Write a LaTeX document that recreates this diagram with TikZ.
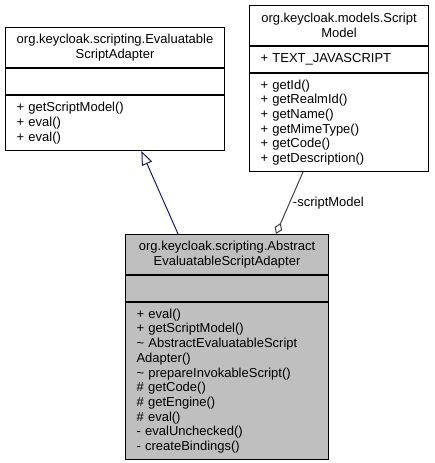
\documentclass[tikz,border=0pt]{standalone}
\usepackage{fontspec}
\setmainfont{Liberation Sans}
\usetikzlibrary{positioning,calc,arrows.meta}
\definecolor{inherit}{HTML}{191970}
\definecolor{usage}{HTML}{404040}
\definecolor{abstractfill}{HTML}{BFBFBF}
\tikzstyle{part} = [draw=black, line width=1pt, rectangle, inner ysep=0pt, font=\fontsize{13}{14.7}\selectfont]
\tikzstyle{inheritline} = [draw=inherit, line width=1pt, -{Triangle[open, length=14pt, width=11pt]}]
\tikzstyle{useline} = [draw=usage, line width=1pt, -{Diamond[open, length=12pt, width=8pt]}]
\tikzset{
    classtitle/.style={part, text width=#1, inner xsep=4pt, align=center, minimum height=40pt},
    classattr/.style={part, text width=#1, inner xsep=11pt, align=left, minimum height=26pt},
    classops/.style n args={2}{part, text width=#1, inner xsep=11pt, align=left, minimum height=#2}
}

\begin{document}
\begin{tikzpicture}[x=1pt, y=-1pt]
    \useasboundingbox (0,0) rectangle (434,463);

    % interface
    \node [classtitle=211, anchor=north west] (esaTitle) at (5,27) {org.keycloak.scripting.Evaluatable\\ScriptAdapter};
    \node [classattr=197, below=0pt of esaTitle] (esaAttr) {};
    \node [classops={197}{55pt}, below=0pt of esaAttr] (esaOps) {+ getScriptModel()\\+ eval()\\+ eval()};

    % model
    \node [classtitle=171, anchor=north west] (smTitle) at (249,5) {org.keycloak.models.Script\\Model};
    \node [classattr=157, below=0pt of smTitle] (smAttr) {+ TEXT\_JAVASCRIPT};
    \node [classops={157}{98pt}, below=0pt of smAttr] (smOps) {+ getId()\\+ getRealmId()\\+ getName()\\+ getMimeType()\\+ getCode()\\+ getDescription()};

    % abstract class
    \node [classtitle=195, fill=abstractfill, anchor=north west] (aesaTitle) at (125,234) {org.keycloak.scripting.Abstract\\EvaluatableScriptAdapter};
    \node [classattr=181, fill=abstractfill, below=0pt of aesaTitle] (aesaAttr) {};
    \node [classops={181}{157pt}, fill=abstractfill, below=0pt of aesaAttr] (aesaOps) {+ eval()\\+ getScriptModel()\\\textasciitilde{} AbstractEvaluatableScript\\Adapter()\\\textasciitilde{} prepareInvokableScript()\\\# getCode()\\\# getEngine()\\\# eval()\\- evalUnchecked()\\- createBindings()};

    \draw [inheritline] ($(aesaTitle.north west)!0.26!(aesaTitle.north east)$) -- ($(esaOps.south west)!0.62!(esaOps.south east)$);
    \draw [useline] ($(smOps.south west)!0.30!(smOps.south east)$) -- node [right, font=\fontsize{13}{14.7}\selectfont, inner sep=3pt] {-scriptModel} ($(aesaTitle.north west)!0.74!(aesaTitle.north east)$);
\end{tikzpicture}
\end{document}
